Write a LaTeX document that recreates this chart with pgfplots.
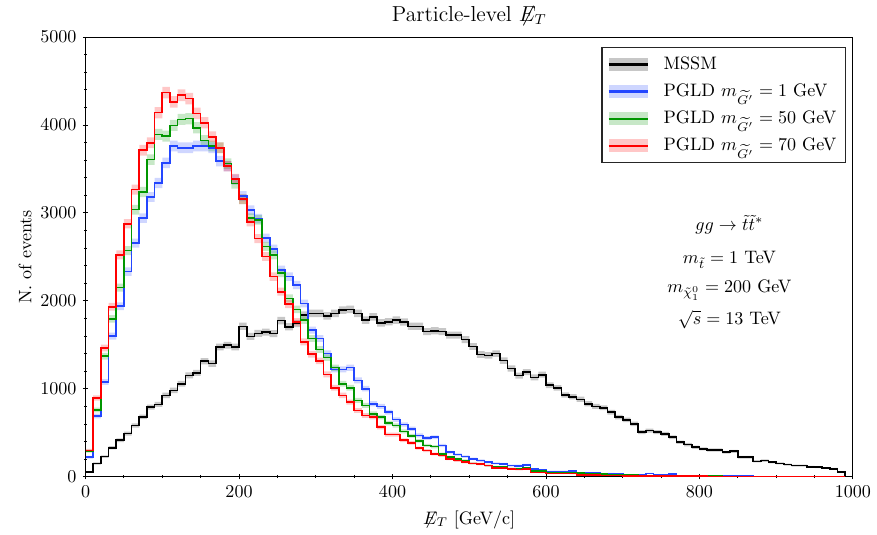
\documentclass[border=0pt]{standalone}
\usepackage{pgfplots}
\pgfplotsset{compat=1.18}
\usepackage{pgfplotstable}
\usepgfplotslibrary{fillbetween}
\definecolor{cK}{RGB}{0,0,0}
\definecolor{cB}{RGB}{35,70,255}
\definecolor{cG}{RGB}{0,150,0}
\definecolor{cR}{RGB}{255,0,0}
\newcommand{\MET}{\mkern1mu{\not}\mkern-1mu E_T}
\pgfplotstableread{
x k b g r
0 55 221 290 300
10 150 690 758 896
20 228 1077 1370 1465
30 330 1598 1796 1933
40 415 1940 2150 2523
50 490 2333 2572 2877
60 582 2656 3037 3265
70 680 2941 3238 3714
80 791 3181 3607 3798
90 822 3341 3893 4140
100 925 3569 3874 4368
110 982 3760 3995 4262
120 1058 3741 4064 4338
130 1153 3741 4072 4300
140 1180 3760 3969 4132
150 1313 3760 3824 4026
160 1286 3741 3760 3866
170 1476 3588 3741 3741
180 1495 3531 3562 3531
190 1476 3379 3333 3387
200 1710 3192 3155 3155
210 1595 3032 2941 2900
220 1630 2935 2922 2708
230 1645 2713 2620 2504
240 1628 2590 2523 2275
250 1775 2352 2318 2104
260 1705 2275 2028 1963
270 1743 2180 1903 1762
280 1838 1971 1781 1533
290 1857 1667 1572 1393
300 1857 1572 1446 1317
310 1830 1400 1355 1164
320 1857 1221 1240 1012
330 1895 1221 1058 925
340 1903 1240 1012 849
350 1857 1096 868 753
360 1781 1001 810 696
370 1819 830 715 677
380 1750 799 677 563
390 1762 734 609 479
400 1781 650 582 479
410 1760 595 515 415
420 1710 545 465 385
430 1710 470 407 325
440 1650 440 354 297
450 1660 449 342 259
460 1650 354 259 240
470 1610 278 221 202
480 1610 251 202 183
490 1560 228 183 164
500 1480 202 152 152
510 1390 183 145 145
520 1380 164 126 126
530 1400 152 114 99
540 1320 145 107 99
550 1230 126 95 88
560 1150 125 95 80
570 1190 135 99 87
580 1130 87 68 50
590 1160 76 62 49
600 1040 61 49 38
610 1010 61 49 38
620 930 61 49 38
630 910 68 45 35
640 880 42 40 23
650 830 42 35 23
660 800 42 30 20
670 784 38 28 15
680 734 38 26 12
690 677 30 24 12
700 647 23 20 11
710 601 23 18 10
720 506 23 16 10
730 525 38 15 9
740 506 19 14 8
750 487 19 12 7
760 449 30 11 7
770 392 15 10 6
780 365 14 9 6
790 335 12 8 5
800 316 10 7 5
810 304 10 6 4
820 304 9 5 4
830 278 8 4 3
840 289 7 4 3
850 221 6 3 3
860 221 5 3 2
870 175 4 2 2
880 183 4 2 2
890 164 3 2 1
900 152 3 1 1
910 137 2 1 1
920 126 2 1 1
930 126 2 1 1
940 114 1 1 0
950 107 1 0 0
960 99 1 0 0
970 90 0 0 0
980 55 0 0 0
990 0 0 0 0
}\data
\begin{document}
\begin{tikzpicture}
\begin{axis}[
  scale only axis,
  width=425pt, height=243.5pt,
  xmin=0, xmax=1000, ymin=0, ymax=5000,
  xtick={0,200,400,600,800,1000},
  ytick={0,1000,2000,3000,4000,5000},
  minor x tick num=3, minor y tick num=4,
  xtick pos=bottom, ytick pos=left,
  tick align=center,
  major tick length=3pt, minor tick length=1.6pt,
  every tick/.style={black, line width=0.5pt},
  axis line style={line width=0.6pt},
  /pgf/number format/1000 sep={},
  title={Particle-level $\MET$},
  title style={font=\large, yshift=-3pt},
  xlabel={$\MET$ [GeV/c]},
  ylabel={N.\ of events},
  xlabel style={yshift=-0.5pt},
  ylabel style={yshift=-2pt},
  legend cell align=left,
  legend style={at={(rel axis cs:0.991,0.977)}, anchor=north east,
    draw=black!85, line width=0.6pt, sharp corners, inner xsep=3pt, inner ysep=3pt,
    row sep=2.5pt},
  legend image code/.code={
    \fill[#1, draw=none, fill opacity=0.22] (0pt,-3.6pt) rectangle (22pt,3.6pt);
    \draw[#1, line width=1.4pt] (0pt,0pt) -- (22pt,0pt);
    \path (28pt,0pt);
  },
]
% MSSM
\addplot[const plot, draw=none, name path=ku, forget plot] table[x=x, y expr={\thisrow{k}+sqrt(\thisrow{k})}] {\data};
\addplot[const plot, draw=none, name path=kl, forget plot] table[x=x, y expr={\thisrow{k}-sqrt(\thisrow{k})}] {\data};
\addplot[fill=cK, fill opacity=0.22, draw=none, forget plot] fill between[of=ku and kl];
\addplot[const plot, cK, line width=0.9pt] table[x=x, y=k] {\data};
\addlegendentry{MSSM}
% 1 GeV
\addplot[const plot, draw=none, name path=bu, forget plot] table[x=x, y expr={\thisrow{b}+sqrt(\thisrow{b})}] {\data};
\addplot[const plot, draw=none, name path=bl, forget plot] table[x=x, y expr={\thisrow{b}-sqrt(\thisrow{b})}] {\data};
\addplot[fill=cB, fill opacity=0.22, draw=none, forget plot] fill between[of=bu and bl];
\addplot[const plot, cB, line width=0.9pt] table[x=x, y=b] {\data};
\addlegendentry{PGLD $m_{\widetilde{G'}} = 1$ GeV}
% 50 GeV
\addplot[const plot, draw=none, name path=gu, forget plot] table[x=x, y expr={\thisrow{g}+sqrt(\thisrow{g})}] {\data};
\addplot[const plot, draw=none, name path=gl, forget plot] table[x=x, y expr={\thisrow{g}-sqrt(\thisrow{g})}] {\data};
\addplot[fill=cG, fill opacity=0.22, draw=none, forget plot] fill between[of=gu and gl];
\addplot[const plot, cG, line width=0.9pt] table[x=x, y=g] {\data};
\addlegendentry{PGLD $m_{\widetilde{G'}} = 50$ GeV}
% 70 GeV
\addplot[const plot, draw=none, name path=ru, forget plot] table[x=x, y expr={\thisrow{r}+sqrt(\thisrow{r})}] {\data};
\addplot[const plot, draw=none, name path=rl, forget plot] table[x=x, y expr={\thisrow{r}-sqrt(\thisrow{r})}] {\data};
\addplot[fill=cR, fill opacity=0.22, draw=none, forget plot] fill between[of=ru and rl];
\addplot[const plot, cR, line width=0.9pt] table[x=x, y=r] {\data};
\addlegendentry{PGLD $m_{\widetilde{G'}} = 70$ GeV}
\node[align=center, font=\normalsize] at (axis cs:839,2330) {%
  $gg \to \tilde{t}\tilde{t}^{*}$\\[6.5pt]
  $m_{\tilde{t}} = 1$ TeV\\[4pt]
  $m_{\tilde{\chi}^0_1} = 200$ GeV\\[4pt]
  $\sqrt{s} = 13$ TeV};
\end{axis}
\path (current axis.outer south west) ++(-7pt,0pt) coordinate (padL);
\path (padL) -- (current axis.outer south west);
\end{tikzpicture}
\end{document}
